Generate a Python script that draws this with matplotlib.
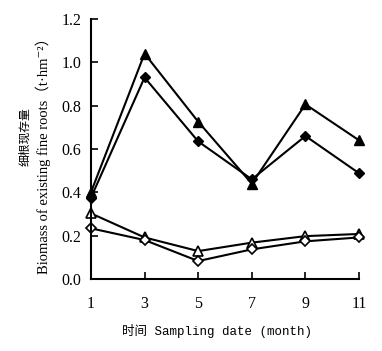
import matplotlib
matplotlib.use("Agg")
import matplotlib.pyplot as plt

plt.rcParams["font.family"] = ["Liberation Serif", "Noto Sans CJK SC"]

# Sampling months
months = [1, 3, 5, 7, 9, 11]

# Fine root biomass (t/hm2), four series
filled_triangle = [0.40, 1.04, 0.726, 0.44, 0.806, 0.64]
filled_diamond = [0.375, 0.93, 0.635, 0.46, 0.66, 0.488]
open_triangle = [0.303, 0.192, 0.129, 0.168, 0.198, 0.208]
open_diamond = [0.234, 0.18, 0.083, 0.137, 0.174, 0.192]

yticks = [0.0, 0.2, 0.4, 0.6, 0.8, 1.0, 1.2]

fig = plt.figure(figsize=(3.82, 3.51), dpi=100)
ax = fig.add_axes([0.238, 0.205, 0.702, 0.741])

ax.plot(months, filled_triangle, color="black", lw=1.5, marker="^", ms=7,
        mfc="black", mec="black")
ax.plot(months, filled_diamond, color="black", lw=1.5, marker="D", ms=5.5,
        mfc="black", mec="black")
ax.plot(months, open_triangle, color="black", lw=1.5, marker="^", ms=6.5,
        mfc="white", mec="black", mew=1.2)
ax.plot(months, open_diamond, color="black", lw=1.5, marker="D", ms=5,
        mfc="white", mec="black", mew=1.2)

ax.set_xlim(1, 11)
ax.set_ylim(0, 1.2)
ax.set_xticks(months)
ax.set_yticks(yticks)
ax.set_yticklabels([f"{v:.1f}" for v in yticks])
ax.tick_params(direction="in", length=5, width=1.2, labelsize=11.5, pad=12)
ax.tick_params(axis="y", pad=7)
ax.spines["top"].set_visible(False)
ax.spines["right"].set_visible(False)
for s in ("left", "bottom"):
    ax.spines[s].set_linewidth(1.5)
for line in ax.lines:
    line.set_clip_on(False)

fig.text(0.569, 0.038, "时间 Sampling date (month)", ha="center", va="bottom",
         fontsize=9, family=["Liberation Mono", "Noto Sans CJK SC"])
fig.text(0.066, 0.61, "细根现存量", rotation=90, ha="center", va="center",
         fontsize=8.5, family=["Noto Sans CJK SC"])
fig.text(0.112, 0.566, "Biomass of existing fine roots（t·hm⁻²）",
         rotation=90, ha="center", va="center", fontsize=10.5,
         family=["Liberation Serif", "DejaVu Serif", "Noto Sans CJK SC"])

plt.savefig("out.png", dpi=100)
